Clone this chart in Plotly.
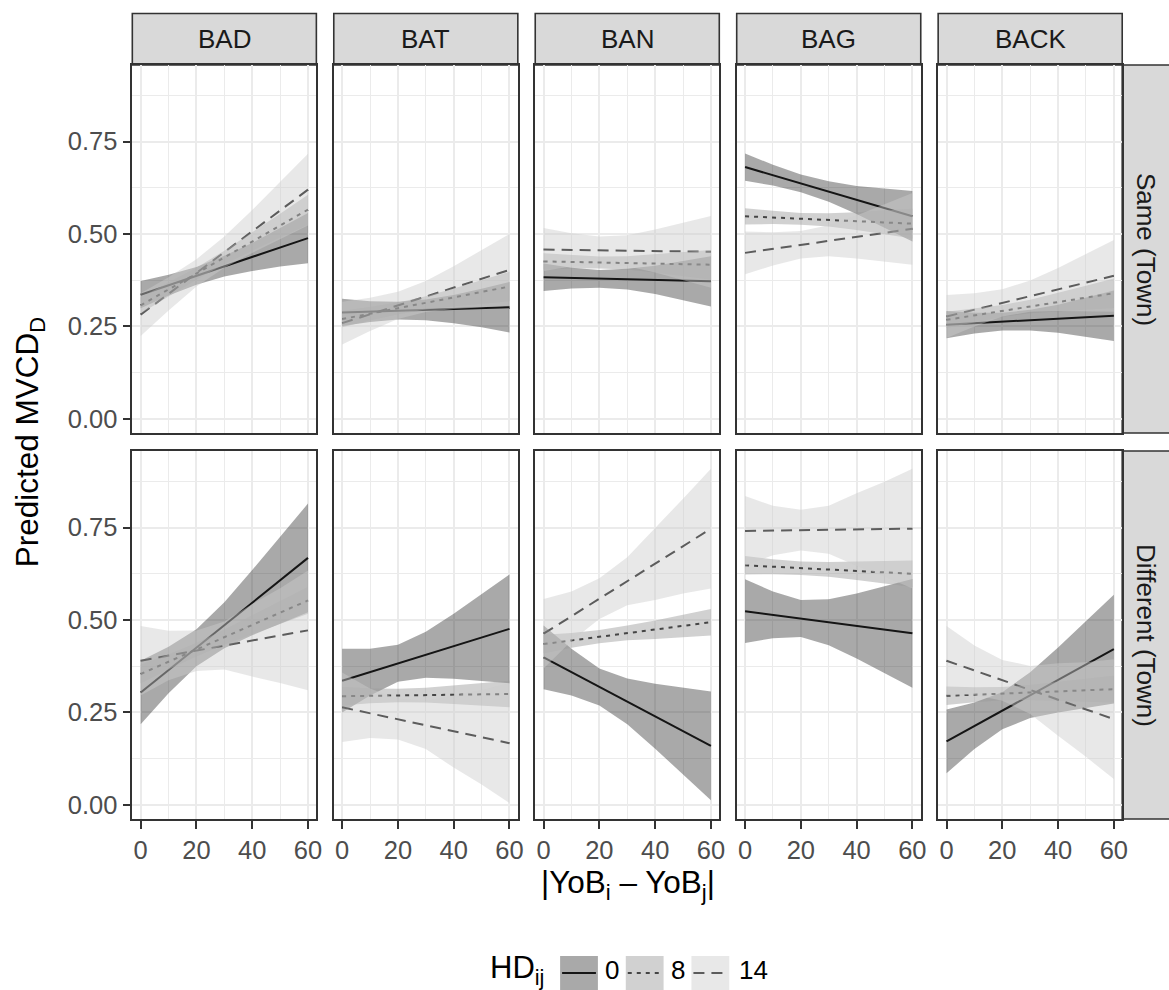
import plotly.graph_objects as go

# ---------------- data ----------------
x_grid = [0, 10, 20, 30, 40, 50, 60]
x_ticks = [0, 20, 40, 60]
y_ticks = [0.0, 0.25, 0.50, 0.75]
y_tick_labels = ["0.00", "0.25", "0.50", "0.75"]
words = ["BAD", "BAT", "BAN", "BAG", "BACK"]
towns = ["Same (Town)", "Different (Town)"]
hd_levels = ["0", "8", "14"]

# fitted line [at x=0, at x=60], one entry per word
same_hd0_fit = [[0.336, 0.489], [0.288, 0.302], [0.383, 0.372], [0.681, 0.548], [0.255, 0.279]]
same_hd8_fit = [[0.307, 0.566], [0.270, 0.358], [0.426, 0.417], [0.548, 0.528], [0.268, 0.340]]
same_hd14_fit = [[0.282, 0.620], [0.259, 0.403], [0.458, 0.452], [0.449, 0.514], [0.277, 0.387]]
diff_hd0_fit = [[0.304, 0.668], [0.336, 0.476], [0.399, 0.160], [0.524, 0.464], [0.172, 0.421]]
diff_hd8_fit = [[0.354, 0.553], [0.294, 0.300], [0.435, 0.494], [0.648, 0.625], [0.295, 0.313]]
diff_hd14_fit = [[0.390, 0.472], [0.264, 0.167], [0.463, 0.747], [0.741, 0.747], [0.390, 0.232]]

# confidence ribbons at x_grid
same_hd0_lower = [[0.299, 0.334, 0.363, 0.385, 0.400, 0.412, 0.421],
                  [0.251, 0.262, 0.269, 0.267, 0.259, 0.248, 0.234],
                  [0.346, 0.353, 0.355, 0.350, 0.338, 0.322, 0.304],
                  [0.644, 0.631, 0.613, 0.587, 0.554, 0.518, 0.480],
                  [0.218, 0.231, 0.239, 0.239, 0.233, 0.223, 0.211]]
same_hd0_upper = [[0.373, 0.390, 0.411, 0.441, 0.476, 0.516, 0.557],
                  [0.325, 0.318, 0.317, 0.323, 0.335, 0.352, 0.370],
                  [0.420, 0.409, 0.403, 0.406, 0.414, 0.426, 0.440],
                  [0.718, 0.687, 0.661, 0.643, 0.630, 0.622, 0.616],
                  [0.292, 0.287, 0.287, 0.295, 0.309, 0.327, 0.347]]
same_hd8_lower = [[0.285, 0.332, 0.377, 0.419, 0.456, 0.491, 0.526],
                  [0.248, 0.267, 0.283, 0.296, 0.305, 0.311, 0.318],
                  [0.404, 0.407, 0.407, 0.404, 0.396, 0.387, 0.377],
                  [0.526, 0.527, 0.525, 0.520, 0.511, 0.499, 0.488],
                  [0.246, 0.262, 0.276, 0.286, 0.292, 0.296, 0.300]]
same_hd8_upper = [[0.329, 0.368, 0.409, 0.455, 0.504, 0.555, 0.606],
                  [0.292, 0.303, 0.315, 0.332, 0.353, 0.375, 0.398],
                  [0.448, 0.443, 0.439, 0.440, 0.444, 0.451, 0.457],
                  [0.570, 0.563, 0.557, 0.556, 0.559, 0.563, 0.568],
                  [0.290, 0.298, 0.308, 0.322, 0.340, 0.360, 0.380]]
same_hd14_lower = [[0.224, 0.293, 0.358, 0.409, 0.449, 0.487, 0.523],
                   [0.201, 0.238, 0.270, 0.289, 0.297, 0.302, 0.306],
                   [0.400, 0.412, 0.419, 0.413, 0.396, 0.376, 0.355],
                   [0.391, 0.415, 0.434, 0.440, 0.434, 0.426, 0.417],
                   [0.219, 0.250, 0.277, 0.290, 0.292, 0.292, 0.290]]
same_hd14_upper = [[0.340, 0.383, 0.432, 0.493, 0.565, 0.641, 0.717],
                   [0.317, 0.328, 0.344, 0.373, 0.413, 0.456, 0.500],
                   [0.516, 0.502, 0.493, 0.497, 0.512, 0.530, 0.549],
                   [0.507, 0.505, 0.508, 0.524, 0.550, 0.580, 0.611],
                   [0.335, 0.340, 0.351, 0.374, 0.408, 0.446, 0.484]]

diff_hd0_lower = [[0.218, 0.302, 0.375, 0.424, 0.459, 0.490, 0.521],
                  [0.250, 0.296, 0.333, 0.344, 0.341, 0.336, 0.329],
                  [0.313, 0.296, 0.269, 0.218, 0.152, 0.083, 0.013],
                  [0.438, 0.451, 0.454, 0.432, 0.396, 0.357, 0.317],
                  [0.086, 0.151, 0.205, 0.235, 0.250, 0.263, 0.274]]
diff_hd0_upper = [[0.390, 0.428, 0.475, 0.548, 0.635, 0.724, 0.815],
                  [0.422, 0.422, 0.433, 0.468, 0.517, 0.570, 0.623],
                  [0.485, 0.422, 0.369, 0.342, 0.328, 0.317, 0.307],
                  [0.610, 0.577, 0.554, 0.556, 0.572, 0.591, 0.611],
                  [0.258, 0.277, 0.305, 0.359, 0.426, 0.497, 0.568]]
diff_hd8_lower = [[0.329, 0.367, 0.402, 0.434, 0.462, 0.490, 0.517],
                  [0.269, 0.275, 0.278, 0.277, 0.273, 0.269, 0.264],
                  [0.410, 0.425, 0.437, 0.445, 0.449, 0.454, 0.458],
                  [0.623, 0.624, 0.622, 0.617, 0.608, 0.599, 0.589],
                  [0.270, 0.278, 0.283, 0.284, 0.282, 0.280, 0.277]]
diff_hd8_upper = [[0.379, 0.407, 0.438, 0.474, 0.512, 0.550, 0.589],
                  [0.319, 0.315, 0.314, 0.317, 0.323, 0.329, 0.336],
                  [0.460, 0.465, 0.473, 0.485, 0.499, 0.514, 0.530],
                  [0.673, 0.664, 0.658, 0.657, 0.658, 0.659, 0.661],
                  [0.320, 0.318, 0.319, 0.324, 0.332, 0.340, 0.349]]
diff_hd14_lower = [[0.296, 0.337, 0.362, 0.366, 0.347, 0.330, 0.310],
                   [0.170, 0.181, 0.177, 0.151, 0.101, 0.055, 0.005],
                   [0.369, 0.443, 0.503, 0.540, 0.554, 0.572, 0.585],
                   [0.647, 0.675, 0.688, 0.679, 0.647, 0.618, 0.585],
                   [0.296, 0.297, 0.282, 0.246, 0.187, 0.130, 0.070]]
diff_hd14_upper = [[0.484, 0.471, 0.472, 0.496, 0.543, 0.586, 0.634],
                   [0.358, 0.315, 0.287, 0.281, 0.297, 0.311, 0.329],
                   [0.557, 0.577, 0.613, 0.670, 0.750, 0.828, 0.909],
                   [0.835, 0.809, 0.798, 0.809, 0.843, 0.874, 0.909],
                   [0.484, 0.431, 0.392, 0.376, 0.383, 0.386, 0.394]]

fits = [[same_hd0_fit, same_hd8_fit, same_hd14_fit],
        [diff_hd0_fit, diff_hd8_fit, diff_hd14_fit]]
lowers = [[same_hd0_lower, same_hd8_lower, same_hd14_lower],
          [diff_hd0_lower, diff_hd8_lower, diff_hd14_lower]]
uppers = [[same_hd0_upper, same_hd8_upper, same_hd14_upper],
          [diff_hd0_upper, diff_hd8_upper, diff_hd14_upper]]

# ---------------- style ----------------
W, H = 1169, 990
FONT = "Liberation Sans, Arial, Helvetica, sans-serif"
fill_colors = ["rgba(51,51,51,0.42)", "rgba(152,152,152,0.45)", "rgba(204,204,204,0.45)"]
dashes = ["solid", "4px,5px", "11px,7px"]
line_w = 2.0
col_left = [133, 335.5, 538, 740.5, 943]
panel_w = 185
row_top = [65, 451]
panel_h = 368
x_range = [-3, 63]
y_range = [-0.038, 0.957]
TICK_FS = 25.5
STRIP_FS = 26
TITLE_FS = 31.5


def px(x):
    return x / W


def py(y):
    return 1 - y / H


fig = go.Figure()
layout = dict(
    width=W, height=H, margin=dict(l=0, r=0, t=0, b=0),
    paper_bgcolor="white", plot_bgcolor="white", showlegend=False,
    font=dict(family=FONT, color="#000000"),
)
shapes = []
annotations = []

for r in range(2):
    for c in range(5):
        n = r * 5 + c + 1
        xa = "x" if n == 1 else f"x{n}"
        ya = "y" if n == 1 else f"y{n}"
        xkey = "xaxis" if n == 1 else f"xaxis{n}"
        ykey = "yaxis" if n == 1 else f"yaxis{n}"
        bottom = (r == 1)
        left = (c == 0)
        layout[xkey] = dict(
            domain=[px(col_left[c]), px(col_left[c] + panel_w)],
            range=x_range, anchor=ya, tickmode="array", tickvals=x_ticks,
            ticktext=[str(v) for v in x_ticks],
            showticklabels=bottom, ticks="outside" if bottom else "",
            ticklen=8, tickwidth=1.8, tickcolor="#333333",
            tickfont=dict(size=TICK_FS, color="#4D4D4D", family=FONT),
            showgrid=True, gridcolor="#EBEBEB", gridwidth=1.8,
            minor=dict(tickmode="array", tickvals=[10, 30, 50], showgrid=True,
                       gridcolor="#EBEBEB", gridwidth=0.9, ticks=""),
            zeroline=False, showline=True, mirror=True, linecolor="#333333", linewidth=1.6,
            fixedrange=True,
        )
        layout[ykey] = dict(
            domain=[py(row_top[r] + panel_h), py(row_top[r])],
            range=y_range, anchor=xa, tickmode="array", tickvals=y_ticks,
            ticktext=y_tick_labels,
            showticklabels=left, ticks="outside" if left else "",
            ticklen=8, tickwidth=1.8, tickcolor="#333333",
            tickfont=dict(size=TICK_FS, color="#4D4D4D", family=FONT),
            showgrid=True, gridcolor="#EBEBEB", gridwidth=1.8,
            minor=dict(tickmode="array", tickvals=[0.125, 0.375, 0.625, 0.875], showgrid=True,
                       gridcolor="#EBEBEB", gridwidth=0.9, ticks=""),
            zeroline=False, showline=True, mirror=True, linecolor="#333333", linewidth=1.6,
            fixedrange=True,
        )
        # lines first (ribbons are drawn over them, as in the original)
        for g in range(3):
            f = fits[r][g][c]
            fig.add_trace(go.Scatter(
                x=[x_grid[0], x_grid[-1]], y=f, mode="lines", xaxis=xa, yaxis=ya,
                line=dict(color="black", width=line_w, dash=dashes[g]),
                hoverinfo="skip", showlegend=False))
        for g in range(3):
            lo = lowers[r][g][c]
            up = uppers[r][g][c]
            fig.add_trace(go.Scatter(
                x=x_grid + x_grid[::-1], y=lo + up[::-1], mode="lines", fill="toself",
                fillcolor=fill_colors[g], line=dict(width=0, color="rgba(0,0,0,0)"),
                xaxis=xa, yaxis=ya, hoverinfo="skip", showlegend=False))

# top strips
for c in range(5):
    shapes.append(dict(type="rect", xref="paper", yref="paper",
                       x0=px(col_left[c]), x1=px(col_left[c] + panel_w),
                       y0=py(65), y1=py(13.5), fillcolor="#D9D9D9",
                       line=dict(color="#333333", width=1.6), layer="below"))
    annotations.append(dict(text=words[c], xref="paper", yref="paper",
                            x=px(col_left[c] + panel_w / 2), y=py(39.5),
                            xanchor="center", yanchor="middle", showarrow=False,
                            font=dict(size=STRIP_FS, color="#1A1A1A", family=FONT)))
# right strips
for r in range(2):
    shapes.append(dict(type="rect", xref="paper", yref="paper",
                       x0=px(1128), x1=px(1180),
                       y0=py(row_top[r] + panel_h), y1=py(row_top[r]), fillcolor="#D9D9D9",
                       line=dict(color="#333333", width=1.6), layer="below"))
    annotations.append(dict(text=towns[r], xref="paper", yref="paper",
                            x=px(1152), y=py(row_top[r] + panel_h / 2), textangle=90,
                            xanchor="center", yanchor="middle", showarrow=False,
                            font=dict(size=STRIP_FS, color="#1A1A1A", family=FONT)))

# axis titles
annotations.append(dict(text="|YoB<sub>i</sub> \u2013 YoB<sub>j</sub>|", xref="paper", yref="paper",
                        x=px(631), y=py(884), xanchor="center", yanchor="middle",
                        showarrow=False, font=dict(size=TITLE_FS, color="black", family=FONT)))
annotations.append(dict(text="Predicted MVCD<sub>D</sub>", xref="paper", yref="paper",
                        x=px(30), y=py(441.5), textangle=-90, xanchor="center", yanchor="middle",
                        showarrow=False, font=dict(size=TITLE_FS, color="black", family=FONT)))

# legend (built manually to mimic ggplot keys)
annotations.append(dict(text="HD<sub>ij</sub>", xref="paper", yref="paper",
                        x=px(491), y=py(970), xanchor="left", yanchor="middle",
                        showarrow=False, font=dict(size=31, color="black", family=FONT)))
key_left = [563, 629, 695]
label_left = [606, 672, 741]
for g in range(3):
    x0 = key_left[g]
    shapes.append(dict(type="line", xref="paper", yref="paper",
                       x0=px(x0 + 2), x1=px(x0 + 36), y0=py(973), y1=py(973),
                       line=dict(color="black", width=line_w, dash=dashes[g]), layer="above"))
    shapes.append(dict(type="rect", xref="paper", yref="paper",
                       x0=px(x0), x1=px(x0 + 38), y0=py(992), y1=py(956),
                       fillcolor=fill_colors[g], line=dict(width=0), layer="above"))
    annotations.append(dict(text=hd_levels[g], xref="paper", yref="paper",
                            x=px(label_left[g]), y=py(970), xanchor="left", yanchor="middle",
                            showarrow=False, font=dict(size=26, color="black", family=FONT)))

layout["shapes"] = shapes
layout["annotations"] = annotations
fig.update_layout(**layout)
fig.write_html("out.html")
